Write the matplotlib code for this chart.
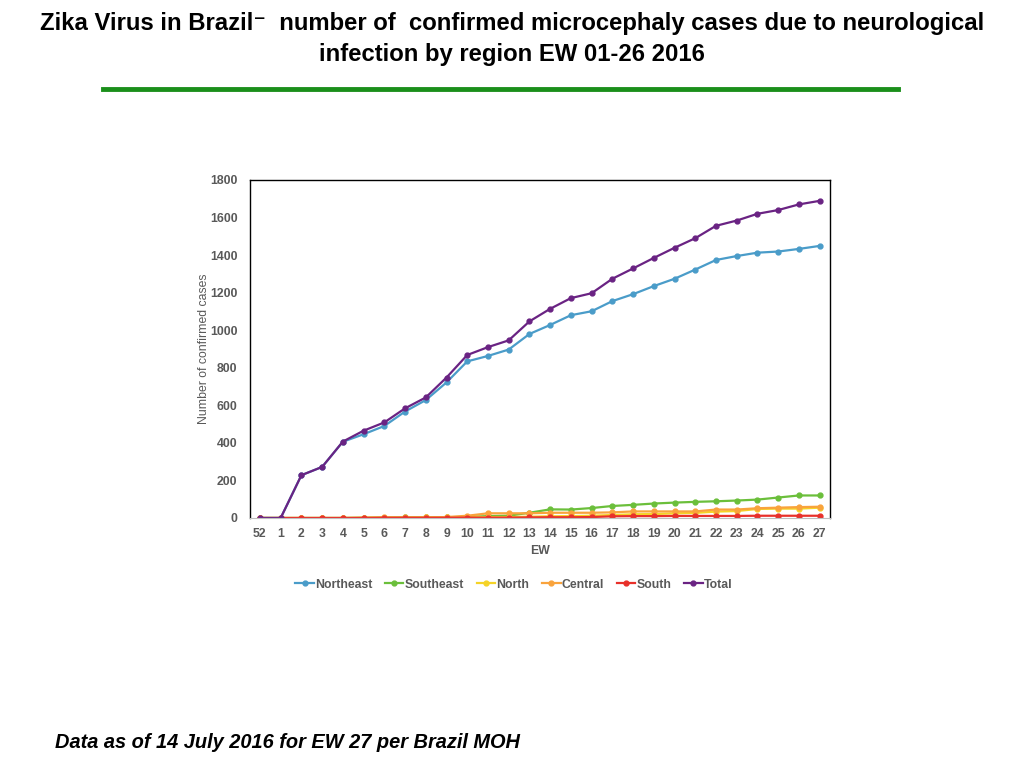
import matplotlib
matplotlib.use("Agg")
import matplotlib.pyplot as plt
from matplotlib.lines import Line2D

plt.rcParams['font.family'] = ['Liberation Sans', 'DejaVu Sans']

# epidemiological weeks (52 of 2015, then 1-27 of 2016)
weeks = ["52"] + [str(w) for w in range(1, 28)]

northeast = [0, 0, 228, 272, 406, 446, 490, 567, 628, 722, 834, 863, 897, 980,
             1028, 1080, 1101, 1155, 1192, 1235, 1274, 1323, 1374, 1395, 1413, 1419, 1433, 1449]
southeast = [0, 0, 0, 0, 0, 1, 2, 3, 3, 4, 6, 10, 12, 28,
             46, 45, 53, 64, 70, 77, 82, 86, 89, 93, 98, 109, 120, 120]
north = [0, 0, 0, 0, 0, 1, 2, 2, 3, 3, 4, 5, 5, 7,
         9, 10, 12, 16, 20, 21, 25, 27, 34, 37, 48, 50, 50, 55]
central = [0, 0, 0, 0, 0, 2, 3, 3, 3, 5, 12, 25, 25, 25,
           28, 28, 28, 30, 35, 35, 35, 35, 45, 45, 52, 55, 58, 60]
south = [0, 0, 0, 0, 0, 0, 1, 1, 1, 1, 2, 2, 2, 3,
         4, 4, 5, 9, 10, 10, 11, 11, 11, 11, 12, 12, 12, 12]
total = [0, 0, 228, 272, 407, 465, 509, 584, 642, 748, 868, 910, 946, 1047,
         1114, 1171, 1197, 1274, 1329, 1385, 1439, 1490, 1556, 1584, 1620, 1640, 1670, 1689]

series_names = ["Northeast", "Southeast", "North", "Central", "South", "Total"]
series_colors = ["#4a9cc9", "#6bbf3b", "#f5d327", "#f9a33c", "#e8302a", "#6a2383"]
series_values = [northeast, southeast, north, central, south, total]

fig = plt.figure(figsize=(10.24, 7.68), dpi=100)

# title and green rule
fig.text(0.5, 0.970, "Zika Virus in Brazil\u207b  number of  confirmed microcephaly cases due to neurological",
         ha="center", va="center", fontsize=17.2, fontweight="bold")
fig.text(0.5, 0.929, "infection by region EW 01-26 2016",
         ha="center", va="center", fontsize=17.2, fontweight="bold")
fig.add_artist(Line2D([103 / 1024, 898 / 1024], [1 - 89 / 768, 1 - 89 / 768],
                      color="#1a8f1a", linewidth=3.5))

ax = fig.add_axes([250 / 1024, 1 - 518 / 768, 580 / 1024, 338 / 768])
x = list(range(len(weeks)))
for name, color, vals in zip(series_names, series_colors, series_values):
    ax.plot(x, vals, color=color, marker="o", markersize=3.5, linewidth=1.6, label=name)

ax.set_xlim(-0.48, 27.5)
ax.set_ylim(0, 1800)
ax.set_yticks(range(0, 1801, 200))
ax.set_xticks(x)
ax.set_xticklabels(weeks)
grey = "#595959"
ax.tick_params(length=0, labelsize=8.8, labelcolor=grey)
ax.tick_params(axis="x", pad=7)
ax.tick_params(axis="y", pad=9)
for lab in ax.get_xticklabels() + ax.get_yticklabels():
    lab.set_fontweight("bold")
for side in ["left", "top", "right"]:
    ax.spines[side].set_color("black")
    ax.spines[side].set_linewidth(1.0)
ax.spines["bottom"].set_color("#bfbfbf")
ax.set_xlabel("EW", fontsize=8.8, fontweight="bold", color=grey, labelpad=4)
ax.set_ylabel("Number of confirmed cases", fontsize=8.8, color=grey, labelpad=0)

ax.legend(loc="upper center", bbox_to_anchor=(0.455, -0.147), ncol=6, frameon=False,
          handlelength=1.5, handletextpad=0.1, columnspacing=1.05,
          labelcolor=grey, prop={"weight": "bold", "size": 8.8})

fig.text(55 / 1024, 1 - 743 / 768, "Data as of 14 July 2016 for EW 27 per Brazil MOH",
         ha="left", va="center", fontsize=14.4, fontweight="bold", fontstyle="italic")

fig.savefig("out.png", dpi=100)
